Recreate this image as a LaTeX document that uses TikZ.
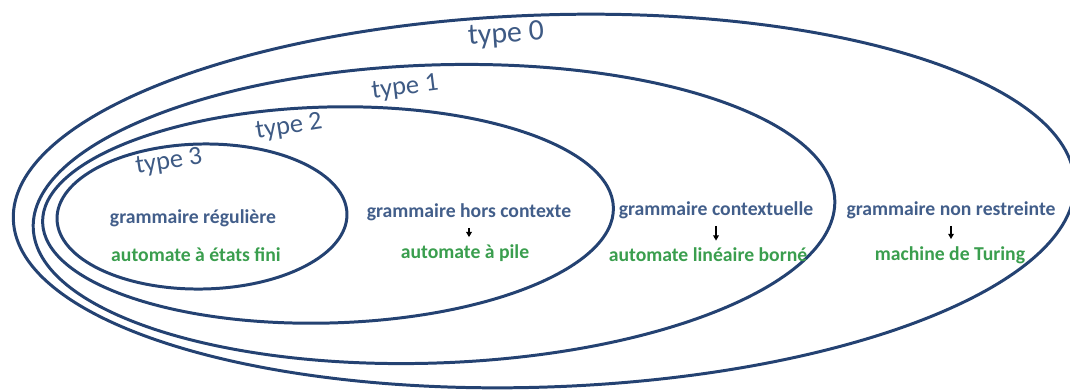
\documentclass[tikz,border=0pt]{standalone}
\usepackage{fontspec}
\setmainfont{Carlito}
\usetikzlibrary{arrows.meta}

\definecolor{rim}{RGB}{36,66,114}
\definecolor{gram}{RGB}{66,94,138}
\definecolor{auto}{RGB}{58,158,78}
\definecolor{tlab}{RGB}{62,90,132}

\tikzset{
  rim/.style={draw=rim, line width=1.7pt},
  gram/.style={text=gram, font=\bfseries\fontsize{11.2}{13}\selectfont, inner sep=1pt},
  auto/.style={text=auto, font=\bfseries\fontsize{11.2}{13}\selectfont, inner sep=1pt},
  tlab/.style={text=tlab, font=\fontsize{15}{17}\selectfont},
  down/.style={-{Triangle[length=3pt,width=3.2pt]}, line width=1pt, shorten <=3pt, shorten >=3pt}
}

\begin{document}
\begin{tikzpicture}
  \useasboundingbox (0,0) rectangle (21.4,7.78);
  \def\Y{3.45};

	% ellipses
	\draw [rim, rotate around={2:(10.88,3.76)}] (10.88,3.76) ellipse [x radius=10.62, y radius=3.72];
	\draw [rim, rotate around={2:(8.68,3.50)}] (8.68,3.50) ellipse [x radius=8.02, y radius=2.98];
	\draw [rim, rotate around={1.5:(6.56,3.48)}] (6.56,3.48) ellipse [x radius=5.71, y radius=2.16];
	\draw [rim, rotate around={1:(4.04,\Y)}] (4.04,\Y) ellipse [x radius=2.9, y radius=1.45];

	% type labels
	\node [tlab, rotate=4, font=\fontsize{17}{19}\selectfont] (t0) at (10.12, 7.08) {type 0};
	\node [tlab, rotate=7] (t1) at (8.1, 6.02) {type 1};
	\node [tlab, rotate=9] (t2) at (5.78, 5.24) {type 2};
	\node [tlab, rotate=9] (t3) at (3.38, 4.54) {type 3};

	% grammars and machines
	\node [gram] (g3) at (3.86, 3.42) {grammaire régulière};
	\node [auto] (a3) at (3.92, 2.68) {automate à états fini};

	\node [gram] (g2) at (9.38, 3.54) {grammaire hors contexte};
	\node [auto] (a2) at (9.30, 2.72) {automate à pile};

	\node [gram] (g1) at (14.32, 3.58) {grammaire contextuelle};
	\node [auto] (a1) at (14.16, 2.68) {automate linéaire borné};

	\node [gram] (g0) at (19.02, 3.58) {grammaire non restreinte};
	\node [auto] (a0) at (19.0, 2.68) {machine de Turing};

	% arrows
	\draw [down] (g2.south) -- (g2.south |- a2.north);
	\draw [down] (g1.south) -- (g1.south |- a1.north);
	\draw [down] (g0.south) -- (g0.south |- a0.north);

\end{tikzpicture}
\end{document}
